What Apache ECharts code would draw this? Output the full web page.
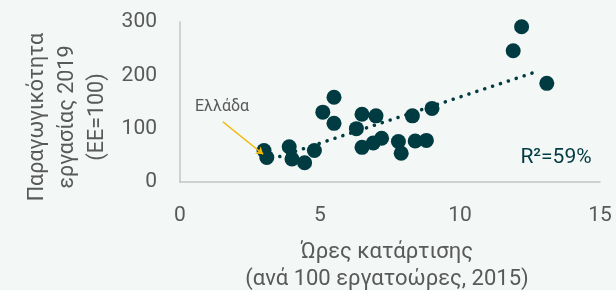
<!DOCTYPE html>
<html>
<head>
<meta charset="utf-8">
<script src="https://cdn.jsdelivr.net/npm/echarts@6/dist/echarts.min.js"></script>
<style>
  html, body { margin: 0; padding: 0; background: #f3f7f5; }
  #chart { width: 616px; height: 290px; }
</style>
</head>
<body>
<div id="chart"></div>
<script>
// Training hours (x) vs labour productivity 2019 (y, EU=100), one point per country.
var trainingHours = [3.0, 3.1, 3.9, 4.0, 4.45, 4.8, 5.1, 5.5, 5.5, 6.3, 6.5, 6.5, 6.9, 7.0, 7.2, 7.8, 7.9, 8.3, 8.4, 8.8, 9.0, 11.9, 12.2, 13.1];
var productivity  = [59, 46, 66, 43, 36, 59, 131, 159, 110, 100, 127, 65, 73, 124, 82, 76, 54, 124, 77, 78, 138, 246, 291, 185];

// dotted trend line ends
var trendX = [3.0, 12.8];
var trendY = [38, 208];

// Greece pointer (tail, head)
var greeceArrowX = [1.53, 2.97];
var greeceArrowY = [113, 52];

var xTicks = [0, 5, 10, 15];
var yTicks = [0, 100, 200, 300];

var GREY = "#595959";
var DOT = "#003b42";
var FONT = "Roboto, 'Noto Sans', sans-serif";

var chart = echarts.init(document.getElementById("chart"));

var points = trainingHours.map(function (x, i) { return [x, productivity[i]]; });
var trend = trendX.map(function (x, i) { return [x, trendY[i]]; });

chart.setOption({
  backgroundColor: "#f3f7f5",
  animation: false,
  textStyle: { fontFamily: FONT },
  grid: { left: 180, right: 16, top: 22, bottom: 108 },
  xAxis: {
    type: "value", min: xTicks[0], max: xTicks[xTicks.length - 1], interval: 5,
    axisLine: { show: true, lineStyle: { color: "#c4c6c5", width: 1.5 } },
    axisTick: { show: false },
    splitLine: { show: false },
    axisLabel: { color: GREY, fontSize: 21, margin: 23, fontFamily: FONT }
  },
  yAxis: {
    type: "value", min: yTicks[0], max: yTicks[yTicks.length - 1], interval: 100,
    axisLine: { show: true, lineStyle: { color: "#c4c6c5", width: 1.5 } },
    axisTick: { show: false },
    splitLine: { show: false },
    axisLabel: { color: GREY, fontSize: 21, margin: 23, fontFamily: FONT }
  },
  graphic: [
    { type: "text", x: 68, y: 117, rotation: Math.PI / 2,
      style: { text: "Παραγωγικότητα\nεργασίας 2019\n(ΕΕ=100)", align: "center", verticalAlign: "middle",
        fill: GREY, fontSize: 21.5, lineHeight: 30, fontFamily: FONT } },
    { type: "text", x: 387, y: 266,
      style: { text: "Ώρες κατάρτισης\n(ανά 100 εργατοώρες, 2015)", align: "center", verticalAlign: "middle",
        fill: GREY, fontSize: 22, lineHeight: 27, fontFamily: FONT } },
    { type: "text", x: 222, y: 107,
      style: { text: "Ελλάδα", align: "center", verticalAlign: "middle", fill: GREY, fontSize: 16, fontFamily: FONT } },
    { type: "text", x: 556, y: 158,
      style: { text: "R²=59%", align: "center", verticalAlign: "middle", fill: DOT, fontSize: 21, fontFamily: FONT } }
  ],
  series: [
    {
      type: "line", data: trend, showSymbol: false, silent: true, z: 1,
      lineStyle: { color: DOT, width: 3.5, type: [0.1, 8.2], cap: "round" }
    },
    {
      type: "scatter", data: points, symbolSize: 15, z: 3,
      itemStyle: { color: DOT, opacity: 1 },
      markLine: {
        silent: true, symbol: ["none", "arrow"], symbolSize: 7,
        label: { show: false },
        lineStyle: { color: "#f5b800", width: 1.5, type: "solid" },
        data: [[
          { coord: [greeceArrowX[0], greeceArrowY[0]] },
          { coord: [greeceArrowX[1], greeceArrowY[1]] }
        ]]
      }
    }
  ]
});
</script>
</body>
</html>
